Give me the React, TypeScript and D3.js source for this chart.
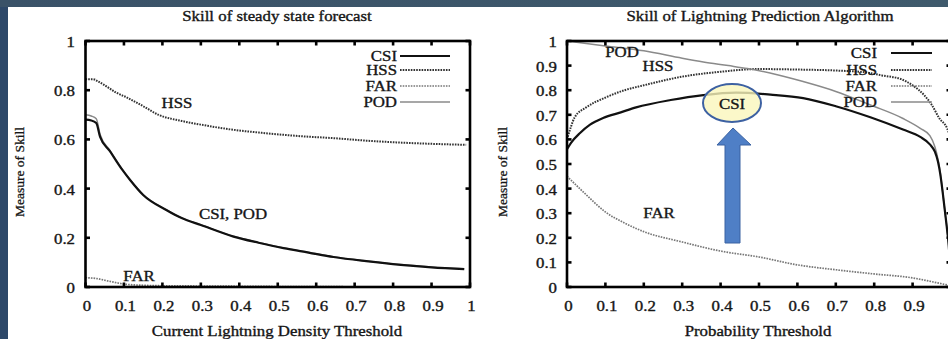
import React from 'react';
import * as d3 from 'd3';

// ---------- data ----------
const leftTitle = 'Skill of steady state forecast';
const rightTitle = 'Skill of Lightning Prediction Algorithm';
const leftXLabel = 'Current Lightning Density Threshold';
const rightXLabel = 'Probability Threshold';
const yLabel = 'Measure of Skill';
const legendNames = ['CSI', 'HSS', 'FAR', 'POD'];

const leftXTicks = [0, 0.1, 0.2, 0.3, 0.4, 0.5, 0.6, 0.7, 0.8, 0.9, 1];
const leftXTickLabels = ['0', '0.1', '0.2', '0.3', '0.4', '0.5', '0.6', '0.7', '0.8', '0.9', '1'];
const leftYTicks = [0, 0.2, 0.4, 0.6, 0.8, 1];
const leftYTickLabels = ['0', '0.2', '0.4', '0.6', '0.8', '1'];
const rightXTicks = [0, 0.1, 0.2, 0.3, 0.4, 0.5, 0.6, 0.7, 0.8, 0.9, 1];
// the "1" label of the right panel lies beyond the cropped picture edge
const rightXTickLabels = ['0', '0.1', '0.2', '0.3', '0.4', '0.5', '0.6', '0.7', '0.8', '0.9', ''];
const rightYTicks = [0, 0.1, 0.2, 0.3, 0.4, 0.5, 0.6, 0.7, 0.8, 0.9, 1];
const rightYTickLabels = ['0', '0.1', '0.2', '0.3', '0.4', '0.5', '0.6', '0.7', '0.8', '0.9', '1'];

// left panel (steady state forecast)
const leftCsiX = [0, 0.015, 0.028, 0.038, 0.063, 0.094, 0.116, 0.15, 0.21, 0.25, 0.3, 0.385, 0.45, 0.515, 0.58, 0.645, 0.73, 0.82, 0.9, 0.985];
const leftCsiY = [0.68, 0.677, 0.667, 0.61, 0.553, 0.48, 0.435, 0.374, 0.313, 0.28, 0.252, 0.205, 0.18, 0.158, 0.14, 0.122, 0.105, 0.09, 0.08, 0.073];
const leftPodX = [0, 0.015, 0.028, 0.038, 0.063, 0.094, 0.116, 0.15, 0.21, 0.25, 0.3, 0.385, 0.45, 0.515, 0.58, 0.645, 0.73, 0.82, 0.9, 0.985];
const leftPodY = [0.7, 0.695, 0.684, 0.62, 0.556, 0.482, 0.436, 0.375, 0.314, 0.281, 0.253, 0.206, 0.181, 0.159, 0.141, 0.123, 0.106, 0.091, 0.081, 0.074];
const leftHssX = [0, 0.02, 0.03, 0.05, 0.08, 0.108, 0.15, 0.19, 0.25, 0.3, 0.38, 0.47, 0.56, 0.645, 0.73, 0.82, 0.9, 0.99];
const leftHssY = [0.845, 0.845, 0.838, 0.82, 0.79, 0.77, 0.735, 0.7, 0.675, 0.66, 0.64, 0.625, 0.613, 0.605, 0.595, 0.587, 0.582, 0.578];
const leftFarX = [0, 0.03, 0.06, 0.1, 0.15, 0.2, 0.3, 0.4, 0.5, 0.7, 1];
const leftFarY = [0.038, 0.034, 0.024, 0.012, 0.007, 0.005, 0.004, 0.003, 0.002, 0.001, 0];

// right panel (prediction algorithm)
const rightCsiX = [0, 0.01, 0.034, 0.06, 0.094, 0.14, 0.18, 0.27, 0.355, 0.44, 0.53, 0.615, 0.7, 0.79, 0.875, 0.92, 0.945, 0.958, 0.966, 0.972, 0.978, 0.984, 0.99, 0.995, 1];
const rightCsiY = [0.56, 0.585, 0.626, 0.66, 0.687, 0.71, 0.73, 0.76, 0.78, 0.79, 0.782, 0.768, 0.735, 0.69, 0.64, 0.61, 0.58, 0.55, 0.51, 0.46, 0.39, 0.31, 0.23, 0.15, 0];
const rightPodX = [0, 0.05, 0.1, 0.2, 0.3, 0.355, 0.42, 0.47, 0.55, 0.615, 0.7, 0.79, 0.875, 0.92, 0.945, 0.958, 0.966, 0.972, 0.978, 0.984, 0.99, 0.995, 1];
const rightPodY = [1.0, 0.99, 0.98, 0.96, 0.93, 0.915, 0.9, 0.888, 0.862, 0.835, 0.795, 0.74, 0.685, 0.645, 0.615, 0.57, 0.52, 0.465, 0.39, 0.31, 0.23, 0.15, 0];
const rightHssX = [0, 0.01, 0.02, 0.05, 0.1, 0.15, 0.2, 0.3, 0.4, 0.5, 0.6, 0.7, 0.78, 0.82, 0.87, 0.9, 0.93, 0.95, 0.97, 0.99, 1];
const rightHssY = [0.6, 0.65, 0.69, 0.73, 0.77, 0.8, 0.82, 0.855, 0.875, 0.886, 0.884, 0.88, 0.872, 0.86, 0.845, 0.82, 0.78, 0.74, 0.685, 0.645, 0.6];
const rightFarX = [0, 0.02, 0.05, 0.1, 0.15, 0.2, 0.3, 0.4, 0.5, 0.6, 0.7, 0.8, 0.9, 0.97, 1];
const rightFarY = [0.45, 0.42, 0.375, 0.305, 0.26, 0.225, 0.183, 0.146, 0.122, 0.09, 0.07, 0.053, 0.037, 0.015, 0.005];

const FONT = '"Liberation Serif", "Times New Roman", serif';
const SX = 1.16;

type SeriesStyle = { stroke: string; width: number; dash?: string };
const styles: Record<string, SeriesStyle> = {
  CSI: { stroke: '#111', width: 2.2 },
  HSS: { stroke: '#333', width: 2, dash: '1.6,1.1' },
  FAR: { stroke: '#777', width: 1.7, dash: '1.6,1.1' },
  POD: { stroke: '#8a8a8a', width: 1.5 },
};

function T({ x, y, children, anchor = 'middle', size = 14.5 }: any) {
  return (
    <text
      transform={`translate(${x},${y}) scale(${SX},1)`}
      textAnchor={anchor}
      dy="0.35em"
      fontFamily={FONT}
      fontSize={size}
      fill="#161616"
      stroke="#161616"
      strokeWidth={0.35}
    >
      {children}
    </text>
  );
}

function Panel(props: any) {
  const { x0, x1, xTicks, xTickLabels, yTicks, yTickLabels, series, title, titleX, xLabel, xLabelX, yLabelX, yTickRight, legendRight, legendLine0, legendLine1, legendYs, labels } = props;
  const x = d3.scaleLinear().domain([0, 1]).range([x0, x1]);
  const y = d3.scaleLinear().domain([0, 1]).range([287, 41]);
  const line = d3.line<[number, number]>().x((d) => x(d[0])).y((d) => y(d[1])).curve(d3.curveMonotoneX);
  const id = `clip${Math.round(x0)}`;
  const tl = 4.5;
  return (
    <g>
      <clipPath id={id}>
        <rect x={x0} y={41} width={x1 - x0} height={246} />
      </clipPath>
      <g clipPath={`url(#${id})`}>
        {series.map((s: any) => (
          <path
            key={s.name}
            d={line(s.xs.map((v: number, i: number) => [v, s.ys[i]])) || ''}
            fill="none"
            stroke={styles[s.name].stroke}
            strokeWidth={styles[s.name].width}
            strokeDasharray={styles[s.name].dash}
          />
        ))}
      </g>
      {/* frame */}
      <rect x={x0} y={41} width={x1 - x0} height={246} fill="none" stroke="#000" strokeWidth={2.6} />
      {xTicks.map((t: number) => (
        <g key={'xt' + t}>
          <line x1={x(t)} x2={x(t)} y1={287} y2={287 - tl} stroke="#000" strokeWidth={2.6} />
          <line x1={x(t)} x2={x(t)} y1={41} y2={41 + tl} stroke="#000" strokeWidth={2.6} />
        </g>
      ))}
      {yTicks.map((t: number) => (
        <g key={'yt' + t}>
          <line x1={x0} x2={x0 + tl} y1={y(t)} y2={y(t)} stroke="#000" strokeWidth={2.6} />
          <line x1={x1} x2={x1 - tl} y1={y(t)} y2={y(t)} stroke="#000" strokeWidth={2.6} />
        </g>
      ))}
      {xTicks.map((t: number, i: number) =>
        xTickLabels[i] ? (
          <T key={'xl' + t} x={x(t) + 1.5} y={306}>{xTickLabels[i]}</T>
        ) : null
      )}
      {yTicks.map((t: number, i: number) => (
        <T key={'yl' + t} x={yTickRight} y={y(t) + 1} anchor="end">{yTickLabels[i]}</T>
      ))}
      <T x={titleX} y={16}>{title}</T>
      <T x={xLabelX} y={331}>{xLabel}</T>
      <text
        transform={`translate(${yLabelX},172) rotate(-90)`}
        textAnchor="middle"
        dy="0.35em"
        fontFamily={FONT}
        fontSize={13.5}
        fill="#161616"
        stroke="#161616"
        strokeWidth={0.3}
      >
        {yLabel}
      </text>
      {legendNames.map((n: string, i: number) => (
        <g key={'lg' + n}>
          <T x={legendRight} y={legendYs[i]} anchor="end">{n}</T>
          <line
            x1={legendLine0}
            x2={legendLine1}
            y1={legendYs[i]}
            y2={legendYs[i]}
            stroke={styles[n].stroke}
            strokeWidth={styles[n].width}
            strokeDasharray={styles[n].dash}
          />
        </g>
      ))}
      {labels.map((l: any) => (
        <T key={'lab' + l.text} x={l.x} y={l.y}>{l.text}</T>
      ))}
    </g>
  );
}

export default function App() {
  return (
    <svg
      width={948}
      height={339}
      viewBox="0 0 948 339"
      style={{ position: 'absolute', left: 0, top: 0, display: 'block' }}
    >
      <defs>
        <linearGradient id="topband" x1="0" x2="1" y1="0" y2="0">
          <stop offset="0" stopColor="#3a5268" />
          <stop offset="1" stopColor="#3f5a6c" />
        </linearGradient>
      </defs>
      <rect x={0} y={0} width={948} height={339} fill="#2d4869" />
      <rect x={0} y={0} width={948} height={7} fill="url(#topband)" />
      <rect x={8} y={7} width={940} height={332} fill="#ffffff" />
      <Panel
        x0={85.5}
        x1={470}
        xTicks={leftXTicks}
        xTickLabels={leftXTickLabels}
        yTicks={leftYTicks}
        yTickLabels={leftYTickLabels}
        series={[
          { name: 'POD', xs: leftPodX, ys: leftPodY },
          { name: 'FAR', xs: leftFarX, ys: leftFarY },
          { name: 'HSS', xs: leftHssX, ys: leftHssY },
          { name: 'CSI', xs: leftCsiX, ys: leftCsiY },
        ]}
        title={leftTitle}
        titleX={277}
        xLabel={leftXLabel}
        xLabelX={277}
        yLabelX={19}
        yTickRight={75}
        legendRight={397}
        legendLine0={400}
        legendLine1={450}
        legendYs={[56, 70, 86, 102]}
        labels={[
          { text: 'HSS', x: 177, y: 103 },
          { text: 'CSI, POD', x: 233, y: 214 },
          { text: 'FAR', x: 139, y: 276 },
        ]}
      />
      <Panel
        x0={567}
        x1={951}
        xTicks={rightXTicks}
        xTickLabels={rightXTickLabels}
        yTicks={rightYTicks}
        yTickLabels={rightYTickLabels}
        series={[
          { name: 'FAR', xs: rightFarX, ys: rightFarY },
          { name: 'HSS', xs: rightHssX, ys: rightHssY },
          { name: 'POD', xs: rightPodX, ys: rightPodY },
          { name: 'CSI', xs: rightCsiX, ys: rightCsiY },
        ]}
        title={rightTitle}
        titleX={760}
        xLabel={rightXLabel}
        xLabelX={758}
        yLabelX={502}
        yTickRight={557}
        legendRight={877}
        legendLine0={891}
        legendLine1={932}
        legendYs={[53, 70, 86, 102]}
        labels={[
          { text: 'POD', x: 622, y: 52 },
          { text: 'HSS', x: 658, y: 66 },
          { text: 'FAR', x: 659, y: 213 },
        ]}
      />
      {/* highlight annotation */}
      <ellipse cx={732} cy={103} rx={29} ry={19} fill="#faf6bc" fillOpacity={0.8} stroke="#3d61a2" strokeWidth={2} />
      <T x={732} y={104}>CSI</T>
      <path
        d="M725,243 L740,243 L740,145 L751,145 L733,128 L717,145 L725,145 Z"
        fill="#4f7fc6"
        stroke="#3a62a2"
        strokeWidth={1}
      />
    </svg>
  );
}
